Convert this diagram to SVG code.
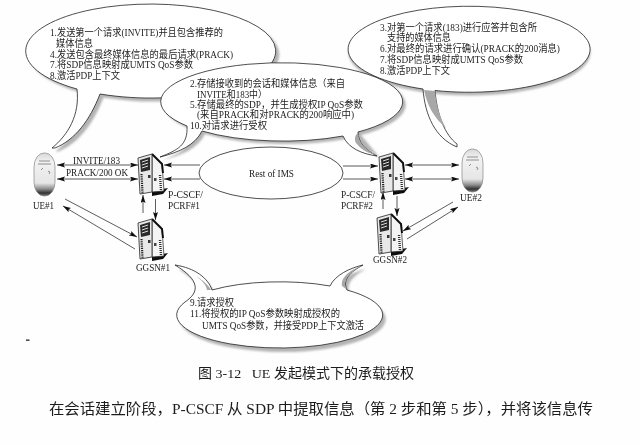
<svg xmlns="http://www.w3.org/2000/svg" width="640" height="445" viewBox="0 0 640 445">
<style>
text{font-family:"Liberation Serif","Noto Sans CJK SC",serif;fill:#1c1c1c}
.b{font-size:9.8px}
.l{font-size:10px}
.cap{font-size:13.5px}
.par{font-size:15px}
.bubble{fill:#fff;stroke:#222;stroke-width:.8}
.shadow{fill:#b4b4b4}
.cres{fill:#a8a8a8}
.c{fill:none;stroke:#333;stroke-width:.8}
.two{marker-start:url(#ah);marker-end:url(#ah)}
.one{marker-end:url(#ah)}
</style>
<defs>
<filter id="soft" x="-5%" y="-5%" width="110%" height="110%"><feGaussianBlur stdDeviation="0.35"/></filter>
<filter id="softer" x="-10%" y="-10%" width="120%" height="120%"><feGaussianBlur stdDeviation="0.9"/></filter>
<marker id="ah" markerUnits="userSpaceOnUse" markerWidth="9" markerHeight="6" refX="8" refY="2.5" orient="auto-start-reverse"><path d="M0,0 L8,2.5 L0,5 L1.5,2.5 Z" fill="#111"/></marker>
<linearGradient id="ueg" x1="0" y1="0" x2="0" y2="1">
<stop offset="0" stop-color="#d8d8d8"/><stop offset=".2" stop-color="#f2f2f2"/><stop offset=".7" stop-color="#e6e6e6"/><stop offset=".84" stop-color="#8a8a8a"/><stop offset=".93" stop-color="#333"/><stop offset="1" stop-color="#777"/>
</linearGradient>
<g id="srv">
<path d="M14,38 L30,35 L25,41 L14,43 Z" fill="#111"/>
<path d="M14,1 L24,11 L26,38 L14,39 Z" fill="#f4f4f4" stroke="#222" stroke-width=".7"/>
<path d="M14,1 L24,11 L25,20" fill="none" stroke="#111" stroke-width="2"/>
<path d="M0,5 L14,1 L14,39 L2,41 Z" fill="#e8e8e8" stroke="#222" stroke-width=".8"/>
<path d="M2,7 L12,4 L12,17 L3,19 Z" fill="#2a2a2a"/>
<path d="M4,9 L10,7 M4,12 L10,10 M4,15 L10,13" stroke="#ddd" stroke-width="1" fill="none"/>
<path d="M3.5,21 L4.5,40" stroke="#222" stroke-width="2.2" stroke-dasharray="1.2 1" fill="none"/>
<rect x="10" y="22" width="2.5" height="3" fill="#333"/>
<path d="M22,22 L23,37" stroke="#333" stroke-width="2.4" stroke-dasharray="1 1" fill="none"/>
<rect x="16" y="25" width="2.5" height="3" fill="#444"/>
</g>
<g id="ue">
<rect x="0" y="0" width="21" height="43" rx="10" ry="14" fill="url(#ueg)" stroke="#888" stroke-width=".7"/>
<path d="M7,17 L9,15 M14,18 L16,19 L15,21 M5,8 H16 M4,11 H17" stroke="#777" stroke-width=".8" fill="none"/>
</g>
</defs>
<rect width="640" height="445" fill="#fefefe"/>
<g filter="url(#soft)">
<g id="bubble-ue1">
<path class="shadow" filter="url(#softer)" transform="translate(3.5,3.5)" d="M52,148 C68,135 80,115 77,89 A125 47 0 1 1 100,94 C90,120 75,140 55,148 Z"/>
<path class="bubble" d="M52,148 C68,135 80,115 77,89 A125 47 0 1 1 100,94 C90,120 75,140 55,148 Z"/>
<text class="b" x="50" y="36" textLength="173" lengthAdjust="spacingAndGlyphs">1.发送第一个请求(INVITE)并且包含推荐的</text>
<text class="b" x="56" y="47" textLength="37" lengthAdjust="spacingAndGlyphs">媒体信息</text>
<text class="b" x="50" y="58" textLength="183" lengthAdjust="spacingAndGlyphs">4.发送包含最终媒体信息的最后请求(PRACK)</text>
<text class="b" x="50" y="68" textLength="143" lengthAdjust="spacingAndGlyphs">7.将SDP信息映射成UMTS QoS参数</text>
<text class="b" x="50" y="79" textLength="70" lengthAdjust="spacingAndGlyphs">8.激活PDP上下文</text>
</g>
<g id="bubble-ue2">
<path class="shadow" filter="url(#softer)" transform="translate(3.5,3.5)" d="M466,6 A121 43 0 1 1 466,92 A121 43 0 1 1 466,6 Z"/>
<path class="bubble" d="M457,147 C435,138 425,115 423,89 A121 43 0 1 1 435,90.5 C437,115 445,135 457,144 Z"/>
<path class="cres" filter="url(#soft)" d="M424,90 L435,91 C436,105 440,118 446,128 C434,118 427,105 424,90 Z"/>
<text class="b" x="380" y="31" textLength="157" lengthAdjust="spacingAndGlyphs">3.对第一个请求(183)进行应答并包含所</text>
<text class="b" x="387" y="41" textLength="64" lengthAdjust="spacingAndGlyphs">支持的媒体信息</text>
<text class="b" x="380" y="52" textLength="180" lengthAdjust="spacingAndGlyphs">6.对最终的请求进行确认(PRACK的200消息)</text>
<text class="b" x="380" y="63" textLength="143" lengthAdjust="spacingAndGlyphs">7.将SDP信息映射成UMTS QoS参数</text>
<text class="b" x="380" y="74" textLength="70" lengthAdjust="spacingAndGlyphs">8.激活PDP上下文</text>
</g>
<g id="bubble-pcscf">
<path class="shadow" filter="url(#softer)" transform="translate(3,3)" d="M160,157 C178,150 188,145 187,126 A121 39 0 1 1 358,132 L377,155 L343,136 A121 39 0 0 1 202,131 C195,145 180,152 160,157 Z"/>
<path class="bubble" d="M160,157 C178,150 188,145 187,126 A121 39 0 1 1 358,132 C358,142 365,150 377,156 C362,154 348,148 343,136 A121 39 0 0 1 202,131 C195,145 180,152 160,157 Z"/>
<path class="cres" filter="url(#soft)" d="M358,133 C358,142 365,150 376,155 C366,153 360,148 356,143 C354,139 355,135 358,133 Z"/>
<text class="b" x="190" y="87" textLength="155" lengthAdjust="spacingAndGlyphs">2.存储接收到的会话和媒体信息（来自</text>
<text class="b" x="197" y="97.500" textLength="70" lengthAdjust="spacingAndGlyphs">INVITE和183中）</text>
<text class="b" x="190" y="108" textLength="173" lengthAdjust="spacingAndGlyphs">5.存储最终的SDP，并生成授权IP QoS参数</text>
<text class="b" x="197" y="118" textLength="157" lengthAdjust="spacingAndGlyphs">(来自PRACK和对PRACK的200响应中)</text>
<text class="b" x="190" y="129" textLength="77" lengthAdjust="spacingAndGlyphs">10.对请求进行受权</text>
</g>
<g id="bubble-ggsn">
<path class="shadow" filter="url(#softer)" transform="translate(3,4)" d="M175,265 C195,268 208,278 212,290 A103 33 0 0 1 330,286 C335,275 350,268 363,265 C350,272 342,280 347,290 A103 33 0 1 1 185,302 C200,292 200,280 175,265 Z"/>
<path class="bubble" d="M175,265 C195,268 208,278 212,290 A103 33 0 0 1 330,286 C335,275 350,268 363,265 C350,272 342,280 347,290 A103 33 0 1 1 185,302 C200,292 200,280 175,265 Z"/>
<path class="cres" filter="url(#soft)" d="M361,266 C350,272 342,280 346,289 L342,286 C340,278 350,270 361,266 Z M196,276 C204,281 209,286 211,290 L207,290 C206,284 201,280 196,276 Z"/>
<text class="b" x="190" y="306" textLength="44" lengthAdjust="spacingAndGlyphs">9.请求授权</text>
<text class="b" x="190" y="317" textLength="150" lengthAdjust="spacingAndGlyphs">11.将授权的IP QoS参数映射成授权的</text>
<text class="b" x="202" y="329" textLength="162" lengthAdjust="spacingAndGlyphs">UMTS QoS参数，并接受PDP上下文激活</text>
</g>
<g id="connectors">
<line class="c two" x1="57" y1="165" x2="138" y2="165"/>
<line class="c two" x1="57" y1="179" x2="138" y2="179"/>
<line class="c one" x1="200" y1="165" x2="164" y2="165"/>
<line class="c one" x1="200" y1="179" x2="164" y2="179"/>
<line class="c one" x1="343" y1="166" x2="378" y2="166"/>
<line class="c one" x1="343" y1="179" x2="378" y2="179"/>
<line class="c two" x1="405" y1="165" x2="459" y2="165"/>
<line class="c two" x1="405" y1="179" x2="459" y2="179"/>
<line class="c one" x1="143" y1="213" x2="143" y2="195"/>
<line class="c one" x1="155.500" y1="199" x2="155.500" y2="220"/>
<line class="c one" x1="383" y1="209" x2="383" y2="192"/>
<line class="c one" x1="397" y1="196" x2="397" y2="216"/>
<line class="c one" x1="65" y1="199" x2="137" y2="237"/>
<line class="c one" x1="135" y1="249" x2="63" y2="206"/>
<line class="c one" x1="453" y1="202" x2="403" y2="231"/>
<line class="c one" x1="407" y1="239" x2="458" y2="207"/>
</g>
<g id="ue1"><use href="#ue" x="34" y="153"/><text class="l" x="33" y="209" textLength="21" lengthAdjust="spacingAndGlyphs">UE#1</text></g>
<g id="ue2"><use href="#ue" x="462" y="149"/><text class="l" x="460" y="201" textLength="22" lengthAdjust="spacingAndGlyphs">UE#2</text></g>
<g id="pcscf1"><use href="#srv" x="138" y="153"/><text class="l" x="168" y="198" textLength="35" lengthAdjust="spacingAndGlyphs">P-CSCF/</text><text class="l" x="168" y="209" textLength="32" lengthAdjust="spacingAndGlyphs">PCRF#1</text></g>
<g id="pcscf2"><use href="#srv" x="379" y="152"/><text class="l" x="341" y="198" textLength="34" lengthAdjust="spacingAndGlyphs">P-CSCF/</text><text class="l" x="341" y="209" textLength="32" lengthAdjust="spacingAndGlyphs">PCRF#2</text></g>
<g id="ggsn1"><use href="#srv" x="138" y="218"/><text class="l" x="136" y="271" textLength="34" lengthAdjust="spacingAndGlyphs">GGSN#1</text></g>
<g id="ggsn2"><use href="#srv" x="377" y="213"/><text class="l" x="373" y="263" textLength="34" lengthAdjust="spacingAndGlyphs">GGSN#2</text></g>
<g id="rest-of-ims">
<ellipse cx="271" cy="173" rx="72" ry="26" fill="#fff" stroke="#222" stroke-width=".8"/>
<text class="l" x="249" y="177" textLength="45" lengthAdjust="spacingAndGlyphs">Rest of IMS</text>
</g>
<text class="l" x="73" y="163.500" textLength="47" lengthAdjust="spacingAndGlyphs">INVITE/183</text>
<text class="l" x="66" y="176" textLength="62" lengthAdjust="spacingAndGlyphs">PRACK/200 OK</text>
<rect x="26" y="339.500" width="3.500" height="1.300" fill="#222"/>
<text class="cap" x="198" y="378" textLength="216" lengthAdjust="spacingAndGlyphs" xml:space="preserve">图 3-12   UE 发起模式下的承载授权</text>
<text class="par" x="49" y="414" textLength="544" lengthAdjust="spacingAndGlyphs">在会话建立阶段，P-CSCF 从 SDP 中提取信息（第 2 步和第 5 步），并将该信息传</text>
</g>
</svg>
